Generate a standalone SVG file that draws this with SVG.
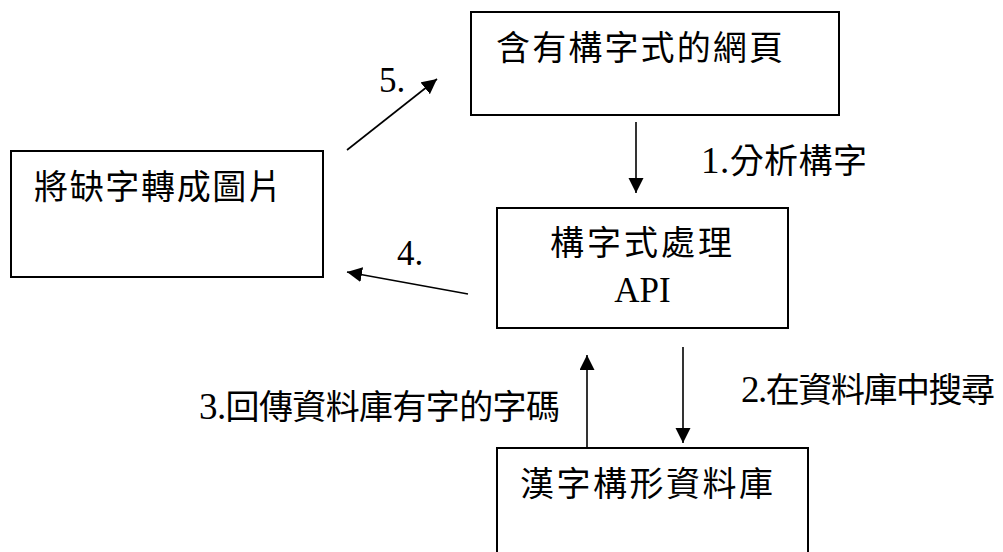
<svg xmlns="http://www.w3.org/2000/svg" width="1003" height="552" viewBox="0 0 1003 552">
<style>
.box{fill:#fff;stroke:#000;stroke-width:2}
.cjk{font-family:"Noto Sans CJK TC","Noto Sans CJK SC",sans-serif;font-size:34px;fill:#000}
.lbl{font-family:"Liberation Serif","Noto Sans CJK TC",serif;font-size:34px;fill:#000}
.d{font-size:37px}
.num{font-family:"Liberation Serif",serif;font-size:35px;fill:#000}
.conn line{stroke:#000;stroke-width:1.6;marker-end:url(#ah)}
</style>
<defs>
<marker id="ah" markerUnits="userSpaceOnUse" markerWidth="16" markerHeight="16" refX="15" refY="7.5" orient="auto">
<path d="M0,0 L15,7.5 L0,15 Z" fill="#000"/>
</marker>
</defs>
<rect width="1003" height="552" fill="#fff"/>
<g id="node-webpage">
<rect class="box" x="471" y="12" width="368" height="103"/>
<text class="cjk" x="496" y="60" textLength="287" lengthAdjust="spacing">含有構字式的網頁</text>
</g>
<g id="node-image">
<rect class="box" x="11" y="151" width="312" height="126"/>
<text class="cjk" x="34" y="199" textLength="248" lengthAdjust="spacing">將缺字轉成圖片</text>
</g>
<g id="node-api">
<rect class="box" x="497" y="208" width="291" height="120"/>
<text class="cjk" x="550" y="255" textLength="182" lengthAdjust="spacing">構字式處理</text>
<text class="num" x="642.5" y="302" text-anchor="middle">API</text>
</g>
<g id="node-db">
<rect class="box" x="497" y="448" width="311" height="130"/>
<text class="cjk" x="520" y="496" textLength="253" lengthAdjust="spacing">漢字構形資料庫</text>
</g>
<g id="connectors" class="conn">
<line x1="636" y1="122" x2="636" y2="193"/>
<line x1="683" y1="347" x2="683" y2="443"/>
<line x1="587" y1="448" x2="587" y2="355"/>
<line x1="468" y1="294" x2="347" y2="272"/>
<line x1="347" y1="150" x2="437" y2="79"/>
</g>
<g id="labels">
<text class="lbl" x="701" y="173" textLength="166" lengthAdjust="spacing"><tspan class="d">1.</tspan>分析構字</text>
<text class="lbl" x="741" y="402" textLength="254" lengthAdjust="spacing"><tspan class="d">2.</tspan>在資料庫中搜尋</text>
<text class="lbl" x="199" y="419" textLength="361" lengthAdjust="spacing"><tspan class="d">3.</tspan>回傳資料庫有字的字碼</text>
<text class="num" x="397" y="265">4.</text>
<text class="num" x="379" y="92">5.</text>
</g>
</svg>
